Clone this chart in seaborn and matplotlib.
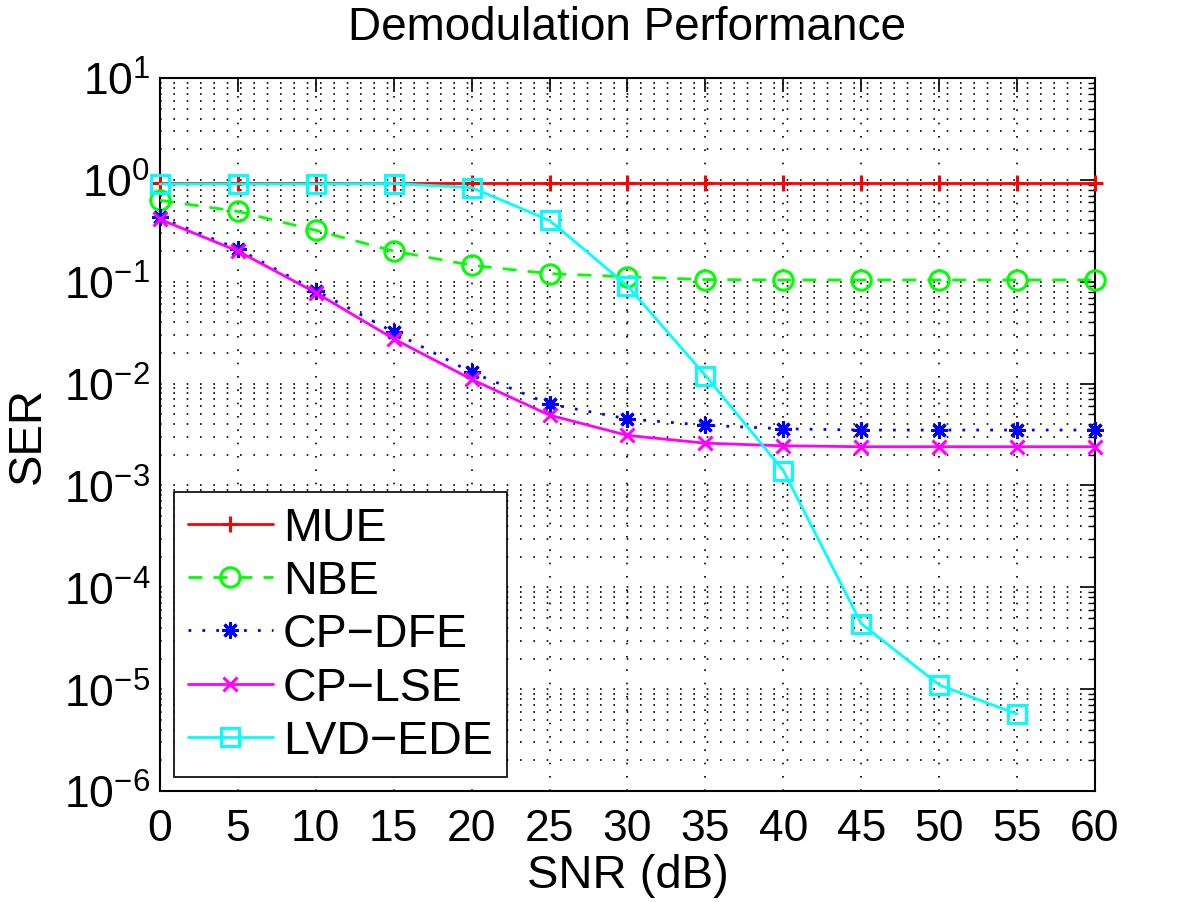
import matplotlib
matplotlib.use("Agg")
import matplotlib.pyplot as plt
import matplotlib.ticker as mticker
import seaborn as sns
import numpy as np

# SNR points (dB)
snr = [0, 5, 10, 15, 20, 25, 30, 35, 40, 45, 50, 55, 60]
snr_lvd = [0, 5, 10, 15, 20, 25, 30, 35, 40, 45, 50, 55]

# symbol error rates
ser_mue = [0.93, 0.93, 0.93, 0.93, 0.93, 0.93, 0.93, 0.93, 0.93, 0.93, 0.93, 0.93, 0.93]
ser_nbe = [0.63, 0.49, 0.32, 0.20, 0.145, 0.12, 0.112, 0.105, 0.104, 0.104, 0.104, 0.104, 0.104]
ser_dfe = [0.43, 0.21, 0.082, 0.032, 0.0129, 0.0063, 0.0045, 0.0039, 0.0036, 0.0035, 0.0035, 0.0035, 0.0035]
ser_lse = [0.41, 0.20, 0.078, 0.0275, 0.011, 0.0049, 0.0031, 0.0026, 0.00245, 0.0024, 0.0024, 0.0024, 0.0024]
ser_lvd = [0.91, 0.91, 0.91, 0.92, 0.84, 0.40, 0.091, 0.012, 0.0014, 4.4e-5, 1.1e-5, 5.7e-6]

sns.set_style("white")
plt.rcParams["font.family"] = ["Liberation Sans", "DejaVu Sans"]
plt.rcParams["mathtext.fontset"] = "custom"
plt.rcParams["mathtext.rm"] = "Liberation Sans"
plt.rcParams["mathtext.it"] = "Liberation Sans"
plt.rcParams["mathtext.default"] = "regular"
plt.rcParams["text.color"] = "black"
plt.rcParams["axes.labelcolor"] = "black"

fig = plt.figure(figsize=(12, 9.03), dpi=100)
ax = fig.add_axes([0.1333, 0.1229, 0.7792, 0.7896])

series = [
    ("MUE", snr, ser_mue, "#ff0000", "-", "+", 12),
    ("NBE", snr, ser_nbe, "#00ff00", (0, (5, 4)), "o", 14),
    ("CP\u2212DFE", snr, ser_dfe, "#0000ff", (0, (1, 4)), (8, 2, 0), 12),
    ("CP\u2212LSE", snr, ser_lse, "#ff00ff", "-", "x", 10),
    ("LVD\u2212EDE", snr_lvd, ser_lvd, "#00ffff", "-", "s", 13),
]

for name, xs, ys, color, ls, mk, ms in series:
    sns.lineplot(
        x=xs,
        y=ys,
        ax=ax,
        color=color,
        linestyle=ls,
        linewidth=2,
        marker=mk,
        markersize=ms,
        markerfacecolor="none" if mk in ("o", "s") else color,
        markeredgecolor=color,
        markeredgewidth=2.2,
        label=name,
        clip_on=False,
        zorder=3,
    )

ax.set_yscale("log")
ax.set_xlim(0, 60)
ax.set_ylim(1e-6, 1e1)
ax.set_xticks(range(0, 61, 5))
ax.yaxis.set_major_locator(mticker.LogLocator(base=10, numticks=20))
ax.yaxis.set_minor_locator(mticker.LogLocator(base=10, subs=np.arange(2, 10), numticks=20))
ax.yaxis.set_minor_formatter(mticker.NullFormatter())

# MATLAB-like sparse dotted grid
ax.grid(True, which="major", axis="both", color="black", linestyle=(0, (1, 7)), linewidth=1.2)
ax.grid(True, which="minor", axis="y", color="black", linestyle=(0, (1, 7)), linewidth=1.2)
ax.set_axisbelow(True)

ax.tick_params(which="both", direction="in", top=True, right=True,
               labelsize=32, colors="black")
ax.tick_params(axis="x", which="major", length=10, width=1.2, pad=12)
ax.tick_params(axis="y", which="major", length=10, width=1.2, pad=7)
ax.tick_params(which="minor", length=5, width=1.0)
for s in ax.spines.values():
    s.set_color("black")
    s.set_linewidth(1.5)

ax.set_title("Demodulation Performance", fontsize=33, pad=28, color="black")
ax.set_xlabel("SNR (dB)", fontsize=34, labelpad=3)
ax.set_ylabel("SER", fontsize=34, labelpad=10)

leg = ax.legend(
    loc="lower left",
    fontsize=33.5,
    frameon=True,
    fancybox=False,
    edgecolor="black",
    framealpha=1,
    handlelength=1.83,
    handletextpad=0.21,
    labelspacing=0.2,
    borderpad=0.3,
    borderaxespad=0.3,
)
leg.get_frame().set_linewidth(1.2)

fig.savefig("out.png", dpi=100)
plt.close(fig)
